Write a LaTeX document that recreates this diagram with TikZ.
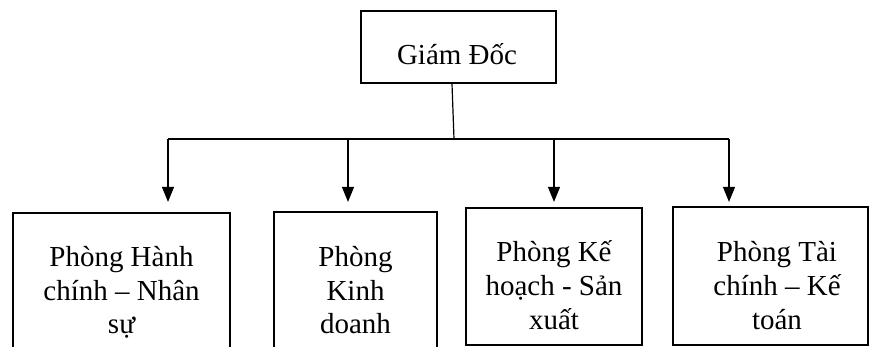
\documentclass[tikz,border=0pt]{standalone}
\usepackage{fontspec}
\setmainfont{Liberation Serif}
\usetikzlibrary{arrows.meta}
\begin{document}
\begin{tikzpicture}[x=1pt,y=-1pt,
  box/.style={draw=black, line width=2.2pt, inner sep=0pt},
  lbl/.style={font=\fontsize{29pt}{33.5pt}\selectfont, align=center, inner sep=0pt, anchor=base},
  conn/.style={draw=black, line width=1.2pt},
  arr/.style={conn, -{Triangle[width=12pt,length=15pt]}}]
\useasboundingbox (0,0) rectangle (870,347);
\clip (0,0) rectangle (870,347);

% director
\node[box, minimum width=195pt, minimum height=72pt] (b0) at (458.5,47) {};
\node[lbl] (t0) at (457,65) {Giám Đốc};

% departments (base anchor sits on the last text line)
\node[box, minimum width=217pt, minimum height=147pt] (b1) at (121.5,286.5) {};
\node[box, minimum width=163pt, minimum height=148pt] (b2) at (355.5,286) {};
\node[box, minimum width=176pt, minimum height=137pt] (b3) at (554,276.5) {};
\node[box, minimum width=195pt, minimum height=138pt] (b4) at (770.5,276) {};

\node[lbl] (t1) at (121.5,334) {Phòng Hành\\chính – Nhân\\sự};
\node[lbl] (t2) at (355.5,334) {Phòng\\Kinh\\doanh};
\node[lbl] (t3) at (554,329) {Phòng Kế\\hoạch - Sản\\xuất};
\node[lbl] (t4) at (777,329) {Phòng Tài\\chính – Kế\\toán};

% branching connectors
\coordinate (j) at (454,139);
\coordinate (h1) at (168,139);
\coordinate (h2) at (348,139);
\coordinate (h3) at (554,139);
\coordinate (h4) at (729,139);

\draw[conn] ([xshift=-6.5pt]b0.south) -- (j);
\draw[conn] (h1) -- (h4);
\draw[arr, shorten >=10pt] (h1) -- (h1 |- b1.north);
\draw[arr, shorten >=9pt] (h2) -- (h2 |- b2.north);
\draw[arr, shorten >=5pt] (h3) -- (h3 |- b3.north);
\draw[arr, shorten >=4pt] (h4) -- (h4 |- b4.north);
\end{tikzpicture}
\end{document}
